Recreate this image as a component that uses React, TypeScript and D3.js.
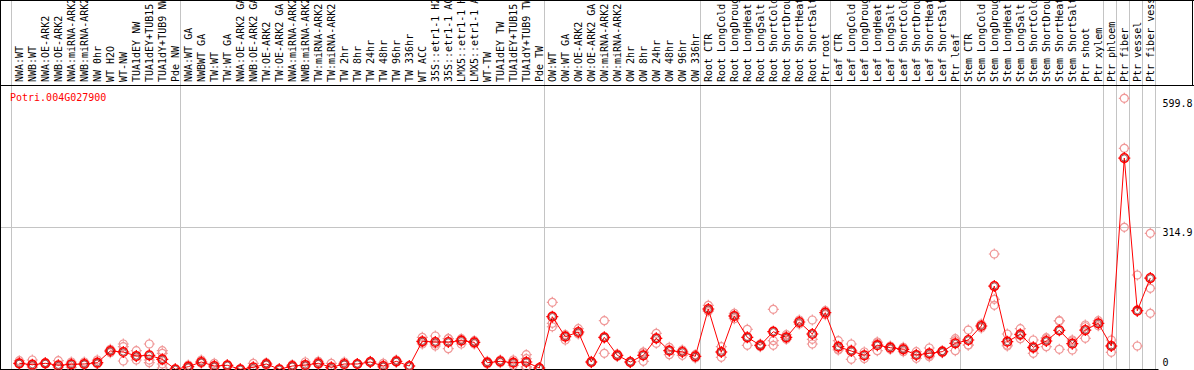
import React from "react";
import * as d3 from "d3";

const title = "Potri.004G027900";

const categories: string[] = [
  "NWA:WT", "NWB:WT", "NWA:OE-ARK2", "NWB:OE-ARK2", "NWA:miRNA-ARK2", "NWB:miRNA-ARK2", "NW 0hr", "WT H2O", "WT-NW", "TUA1dEY NW", "TUA1dEY+TUB15 NW", "TUA1dY+TUB9 NW", "Pde NW",
  "NWA:WT GA", "NWBWT GA", "TW:WT", "TW:WT GA", "NWA:OE-ARK2 GA", "NWB:OE-ARK2 GA", "TW:OE-ARK2", "TW:OE-ARK2 GA", "NWA:miRNA-ARK2 GA", "NWB:miRNA-ARK2 GA", "TW:miRNA-ARK2", "TW:miRNA-ARK2", "TW 2hr", "TW 8hr", "TW 24hr", "TW 48hr", "TW 96hr", "TW 336hr", "WT ACC", "35S::etr1-1 H2O", "35S::etr1-1 ACC", "LMX5::etr1-1 H2O", "LMX5::etr1-1 ACC", "WT-TW", "TUA1dEY TW", "TUA1dEY+TUB15 TW", "TUA1dY+TUB9 TW", "Pde TW",
  "OW:WT", "OW:WT GA", "OW:OE-ARK2", "OW:OE-ARK2 GA", "OW:miRNA-ARK2", "OW:miRNA-ARK2", "OW 2hr", "OW 8hr", "OW 24hr", "OW 48hr", "OW 96hr", "OW 336hr",
  "Root CTR", "Root LongCold", "Root LongDrought", "Root LongHeat", "Root LongSalt", "Root ShortCold", "Root ShortDrought", "Root ShortHeat", "Root ShortSalt", "Ptr root",
  "Leaf CTR", "Leaf LongCold", "Leaf LongDrought", "Leaf LongHeat", "Leaf LongSalt", "Leaf ShortCold", "Leaf ShortDrought", "Leaf ShortHeat", "Leaf ShortSalt", "Ptr leaf",
  "Stem CTR", "Stem LongCold", "Stem LongDrought", "Stem LongHeat", "Stem LongSalt", "Stem ShortCold", "Stem ShortDrought", "Stem ShortHeat", "Stem ShortSalt", "Ptr shoot", "Ptr xylem",
  "Ptr phloem", "Ptr fiber", "Ptr vessel", "Ptr fiber vessel",
];

// index at which each group starts (last entry = total count)
const groupStarts: number[] = [0, 13, 41, 53, 63, 73, 84, 85, 86, 87, 88];

const meanValues: number[] = [
  13.7, 10.6, 13.7, 9.3, 11.5, 12.2, 15, 40.9, 38.7, 29.9, 31.4, 22.6, 0.5,
  6.2, 16.6, 7.7, 9.3, 0.5, 4.9, 12.2, 0.5, 7.7, 10, 13.7, 4.9, 12.2, 12.2, 16.6, 7.7, 18.1, 7.7, 62.4, 60.8, 60.8, 63.7, 60.1, 15, 18.1, 15, 16.6, 3.3,
  116.8, 72.5, 82.9, 16.6, 71.2, 31.4, 16.6, 31.4, 69, 41.6, 38.7, 29.2,
  133.8, 38.7, 118.3, 71.2, 53.5, 83.6, 71.2, 105, 78.5, 125.6,
  50.4, 40.9, 31.4, 53.8, 48.2, 44.7, 32.1, 35.8, 39.4, 57.9,
  65.2, 96.2, 184.6, 61.5, 77.8, 49.1, 63, 86.7, 57.1, 87.3, 102.2,
  52, 467.7, 130, 202.3,
];

const replicateValues: number[][] = [
  [19.5, 12.2, 13], [21, 4.9, 8], [15, 12.2, 14], [19.5, 4.9, 6], [16.6, 4.9, 12], [16.6, 10.6, 12], [21, 13.7, 12], [44.7, 37.1, 41], [56.4, 50.4, 18.8], [41.6, 21, 28], [56.4, 21, 15], [41.6, 35.8, 12.2, 3.3], [0.5, 0.5],
  [10, 3, 5], [21, 13.7, 15], [13.7, 4.9, 4.5], [9.3, 9.3], [0.5, 0.5], [13.7, 0.5, 0.5], [15, 12.2, 9.4], [0.5, 0.5], [10.6, 5.5, 7], [16.6, 7, 6.4], [18.1, 11.5, 11.5], [13.7, 0.5, 0.5], [16.6, 10, 10], [12.2, 12.2], [18.1, 16, 15.7], [13.7, 5, 4.4], [21, 16.6, 16.7], [7.7, 7.7], [71.2, 56.4, 59.6], [74.1, 52, 56.3], [68.1, 46, 68.3], [68.1, 56.4, 66.6], [56.4, 63.7, 60.2], [18.1, 12.2, 14.7], [21, 15.2], [21, 9.3, 14.7], [32.7, 23.9, 6.2, 3.6], [3.3, 3.3],
  [148.6, 102.2, 94.6], [65.2, 77, 75.3], [90.2, 80, 78.5], [18.1, 15.1], [107.9, 35.8, 69.9], [34.3, 28.5], [18.1, 15.1], [38.7, 18.1, 37.4], [80, 57.9, 69.1], [49.1, 32.7, 43], [41.6, 31.4, 43.1], [32.7, 25.7],
  [142, 128.7, 130.7], [50.4, 27, 38.7], [124.3, 112.3, 118.3], [88.9, 53.5, 71.2], [56.4, 50.4, 53.7], [133.1, 63.7, 53.5], [77, 66.8, 69.8], [109.5, 100.5], [109.5, 66.8, 56.4], [130, 121.2],
  [63.7, 43.1, 44.4], [56.4, 22.6, 43.7], [38.7, 24.1], [60.8, 41.6, 59], [44.7, 51.7], [49.1, 39.4, 45.6], [39.4, 24.8, 32.1], [47.5, 28.3, 31.6], [41.6, 37.2], [68.1, 41.6, 64],
  [87.3, 54.2, 54.1], [100.6, 91.8], [255.4, 155.2, 142], [78.5, 52, 54], [90.2, 68.1, 75.1], [65.2, 35.8, 46.3], [70.3, 50.4, 68.3], [107.9, 44.7, 107.5], [65.2, 43.1, 63], [98.4, 69, 94.5], [107.9, 96.5],
  [65.2, 38, 52.8], [599.8, 489.2, 314.5], [209, 52, 129], [301.2, 179.6, 124.3],
];

const yTickValues: number[] = [0, 314.9, 599.8];
const gridValues: number[] = [314.9];

const W = 1194;
const H = 370;
const HEADER = 85.5;
const BASE = 369.5;
const FONT = "'DejaVu Sans Mono', 'Liberation Mono', monospace";

export default function App() {
  const x = d3.scaleLinear().domain([0, categories.length - 1]).range([19.3, 19.3 + 13 * (categories.length - 1)]);
  const y = d3.scaleLinear().domain([0, 599.8]).range([BASE, 98.3]);
  const sepX = (i: number) => Math.round(x(i) - 8) + 0.5;
  const line = d3.line<number>().x((_, i) => x(i)).y((d) => y(d));
  const plotRight = sepX(categories.length);

  return (
    <svg width={W} height={H} style={{ position: "absolute", left: 0, top: 0, background: "#fff" }} fontFamily={FONT}>
      <defs>
        <clipPath id="plotclip">
          <rect x={0} y={HEADER} width={plotRight + 6} height={BASE - HEADER} />
        </clipPath>
        <clipPath id="headclip">
          <rect x={0} y={0} width={W} height={HEADER} />
        </clipPath>
      </defs>
      <rect x={0} y={0} width={W} height={H} fill="#fff" />
      {/* grid lines */}
      {gridValues.map((v) => (
        <line key={v} x1={0} x2={plotRight + 5} y1={Math.round(y(v)) + 0.5} y2={Math.round(y(v)) + 0.5} stroke="#c4c4c4" strokeWidth={1} />
      ))}
      {groupStarts.map((g) => (
        <line key={g} x1={sepX(g)} x2={sepX(g)} y1={0} y2={BASE} stroke="#c4c4c4" strokeWidth={1} />
      ))}
      {/* frame */}
      <line x1={0.5} x2={0.5} y1={0} y2={H} stroke="#000" />
      <line x1={0} x2={W} y1={HEADER} y2={HEADER} stroke="#000" />
      <line x1={0} x2={W} y1={0.5} y2={0.5} stroke="#000" />
      <line x1={W - 1.5} x2={W - 1.5} y1={0} y2={HEADER} stroke="#000" />
      <line x1={0} x2={plotRight + 3} y1={BASE} y2={BASE} stroke="#000" />
      {/* category labels */}
      <g clipPath="url(#headclip)">
        {categories.map((c, i) => (
          <text key={i} transform={`translate(${x(i) + 3.5},${HEADER - 3.5}) rotate(-90)`} fontSize={10} fill="#000">
            {c}
          </text>
        ))}
      </g>
      {/* title */}
      <text x={10} y={101} fontSize={10} fill="#ff0000">{title}</text>
      {/* y labels */}
      {yTickValues.map((v) => (
        <text key={v} x={plotRight + 7} y={Math.min(y(v) + 9, 366)} fontSize={10} fill="#000">
          {v === 0 ? "0" : v.toFixed(1)}
        </text>
      ))}
      <g clipPath="url(#plotclip)">
        {replicateValues.map((reps, i) =>
          reps.map((r, j) => (
            <g key={`${i}-${j}`} transform={`translate(${x(i)},${y(r)})`} stroke="#f09898" strokeWidth={1.2} fill="none">
              <circle r={4} />
              <line x1={0} x2={0} y1={-5.5} y2={-3.5} />
              <line x1={0} x2={0} y1={3.5} y2={5.5} />
              <line x1={-5.5} x2={-3.5} y1={0} y2={0} />
              <line x1={3.5} x2={5.5} y1={0} y2={0} />
            </g>
          ))
        )}
        <path d={line(meanValues) || ""} fill="none" stroke="#ff0000" strokeWidth={1} />
        {meanValues.map((v, i) => (
          <g key={i} transform={`translate(${x(i)},${y(v)})`} fill="none">
            <circle r={4.3} stroke="#ff0000" strokeWidth={1.6} />
            <circle r={3.1} stroke="#600000" strokeWidth={0.6} />
            <line x1={0} x2={0} y1={-6} y2={-4} stroke="#ff0000" strokeWidth={1.2} />
            <line x1={0} x2={0} y1={4} y2={6} stroke="#ff0000" strokeWidth={1.2} />
            <line x1={-6} x2={-4} y1={0} y2={0} stroke="#ff0000" strokeWidth={1.2} />
            <line x1={4} x2={6} y1={0} y2={0} stroke="#ff0000" strokeWidth={1.2} />
          </g>
        ))}
      </g>
    </svg>
  );
}
